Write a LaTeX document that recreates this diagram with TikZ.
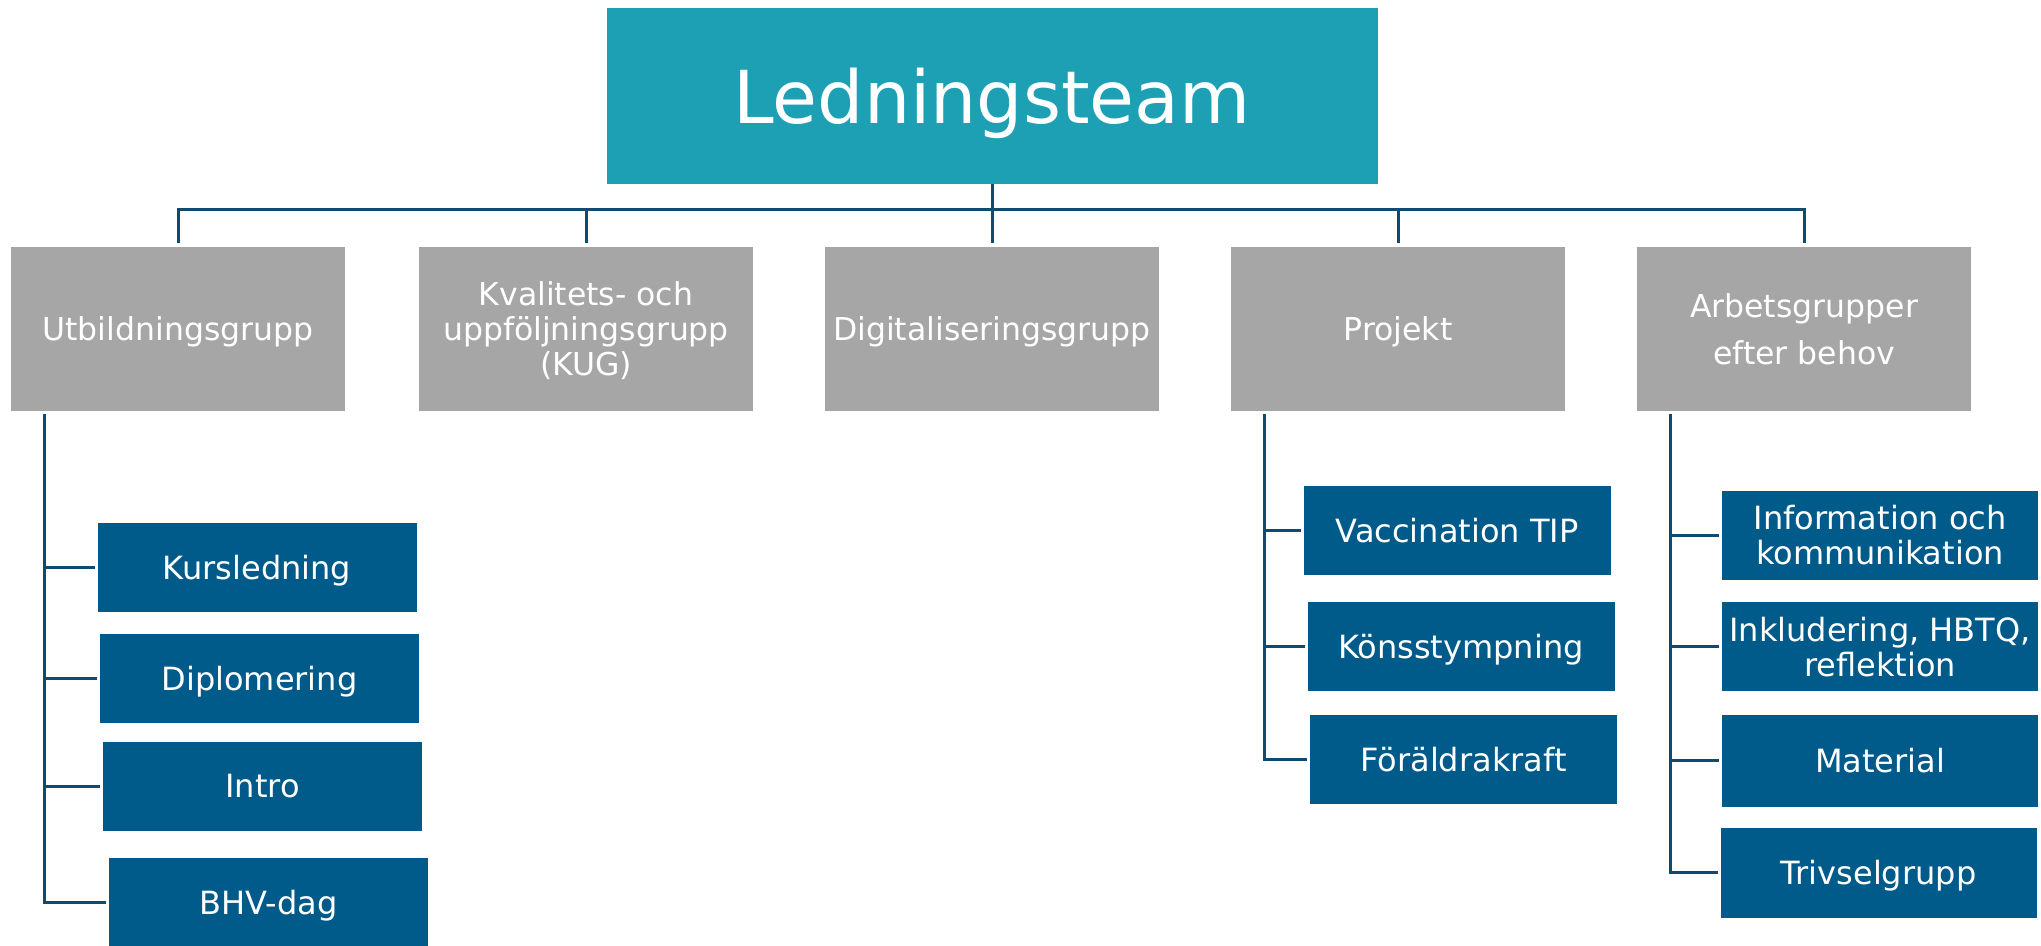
\documentclass[tikz,border=0pt]{standalone}
\usepackage{fontspec}
\setmainfont{DejaVu Sans}
\definecolor{leadc}{RGB}{30,160,180}
\definecolor{grpc}{RGB}{166,166,166}
\definecolor{subc}{RGB}{0,91,138}
\definecolor{linec}{RGB}{15,75,112}
\begin{document}
\begin{tikzpicture}[x=1pt,y=-1pt,
  box/.style={rectangle, inner sep=0pt, outer sep=0pt, text=white, align=center, text depth=0pt},
  leadbox/.style={box, fill=leadc, font=\fontsize{73}{80}\selectfont},
  greybox/.style={box, fill=grpc, minimum width=334pt, minimum height=164pt, font=\fontsize{31.5}{35}\selectfont},
  bluebox/.style={box, fill=subc, minimum height=89pt, font=\fontsize{32}{35}\selectfont},
  conn/.style={draw=linec, line width=3pt}]
\useasboundingbox (0,0) rectangle (2041,945);

% top
\node[leadbox, minimum width=771pt, minimum height=176pt] (lead) at (992,95.6) {Ledningsteam};

% second level
\node[greybox] (g1) at (178,329) {Utbildningsgrupp};
\node[greybox] (g2) at (586,329) {Kvalitets- och\\uppföljningsgrupp\\(KUG)};
\node[greybox] (g3) at (992,329) {Digitaliseringsgrupp};
\node[greybox] (g4) at (1398,329) {Projekt};
\node[greybox, font=\fontsize{31.5}{47}\selectfont] (g5) at (1804,329) {Arbetsgrupper\\efter behov};

% bus
\coordinate (bus) at (992,209.6);
\draw[conn] (lead.south) -- (lead.south |- bus);
\draw[conn] ([yshift=4pt]g1.north) -- (g1.north |- bus) -- (g5.north |- bus) -- ([yshift=4pt]g5.north);
\foreach \n in {g2,g3,g4} \draw[conn] (\n.north |- bus) -- ([yshift=4pt]\n.north);

% Utbildningsgrupp children
\node[bluebox, minimum width=319pt] (kurs) at (257,567.5) {Kursledning};
\node[bluebox, minimum width=319pt] (dipl) at (259.5,678) {Diplomering};
\node[bluebox, minimum width=319pt] (intro) at (262.5,786) {Intro};
\node[bluebox, minimum width=319pt, minimum height=88pt] (bhv) at (268.5,902) {BHV-dag};
\coordinate (ltop) at (44,414);
\foreach \n in {kurs,dipl,intro,bhv} \draw[conn] (ltop) |- ([xshift=-3pt]\n.west);

% Projekt children
\node[bluebox, minimum width=307pt] (vacc) at (1457,530) {Vaccination TIP};
\node[bluebox, minimum width=307pt] (kons) at (1461,646) {Könsstympning};
\node[bluebox, minimum width=307pt] (foral) at (1463.5,759.5) {Föräldrakraft};
\coordinate (ptop) at (1264.5,414);
\foreach \n in {vacc,kons,foral} \draw[conn] (ptop) |- ([xshift=-3pt]\n.west);

% Arbetsgrupper children
\node[bluebox, minimum width=316pt] (info) at (1880,535) {Information och\\kommunikation};
\node[bluebox, minimum width=316pt] (inkl) at (1880,646.5) {Inkludering, HBTQ,\\reflektion};
\node[bluebox, minimum width=316pt, minimum height=92pt] (mat) at (1880,760.5) {Material};
\node[bluebox, minimum width=316pt, minimum height=90pt] (triv) at (1878.5,872.7) {Trivselgrupp};
\coordinate (atop) at (1670.5,414);
\foreach \n in {info,inkl,mat,triv} \draw[conn] (atop) |- ([xshift=-3pt]\n.west);
\end{tikzpicture}
\end{document}
